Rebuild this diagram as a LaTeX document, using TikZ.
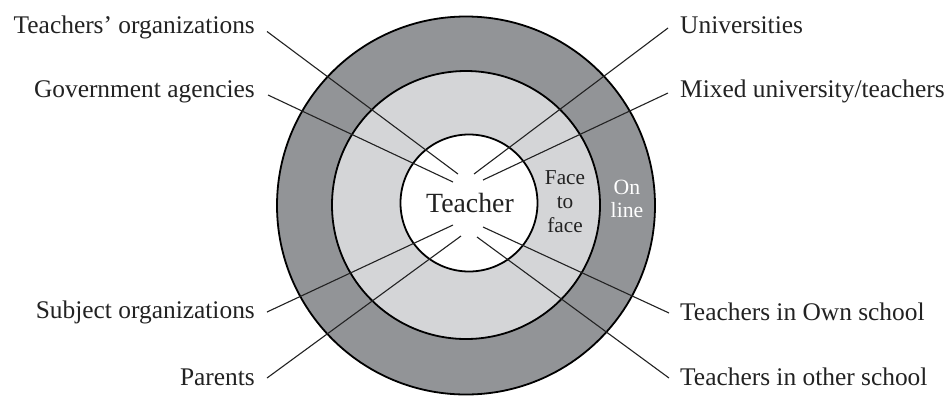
\documentclass[tikz,border=0pt]{standalone}
\usepackage{fontspec}
\setmainfont{Liberation Serif}
\definecolor{ringdark}{HTML}{929497}
\definecolor{ringlight}{HTML}{D4D5D7}
\definecolor{inkc}{HTML}{222222}
\begin{document}
\begin{tikzpicture}[x=1bp,y=-1bp,
  lab/.style={font=\fontsize{25.5}{30}\selectfont, inner sep=0pt, text=inkc},
  lead/.style={draw=inkc, line width=1.1bp},
  ring/.style={circle, draw=black, line width=1.8bp, inner sep=0pt}]
\useasboundingbox (0,0) rectangle (947,396);
\fill[white] (0,0) rectangle (947,396);
% rings
\node[ring, fill=ringdark, minimum size=378bp] (outer) at (466,205.5) {};
\node[ring, fill=ringlight, minimum size=268bp] (mid) at (466,205) {};
\node[ring, fill=white, minimum size=137bp] (inner) at (469,203) {};
% inner ends of connectors
\coordinate (e1) at (458,174);
\coordinate (e2) at (453,182);
\coordinate (e3) at (474,174);
\coordinate (e4) at (483,180);
\coordinate (e5) at (453,225);
\coordinate (e6) at (461,236);
\coordinate (e7) at (483,227);
\coordinate (e8) at (477,237);
% labels
\node[lab, anchor=base east] (to) at (255,33.5) {Teachers’ organizations};
\node[lab, anchor=base east] (ga) at (255,97) {Government agencies};
\node[lab, anchor=base east] (so) at (255,318) {Subject organizations};
\node[lab, anchor=base east] (pa) at (255,385) {Parents};
\node[lab, anchor=base west] (un) at (680,33) {Universities};
\node[lab, anchor=base west] (mx) at (680,97) {Mixed university/teachers};
\node[lab, anchor=base west] (ow) at (680,320) {Teachers in Own school};
\node[lab, anchor=base west] (ot) at (680,385) {Teachers in other school};
% connectors
\draw[lead] ([xshift=12bp,yshift=2bp]to.base east) -- (e1);
\draw[lead] ([xshift=13bp,yshift=2bp]ga.base east) -- (e2);
\draw[lead] ([xshift=12bp,yshift=6bp]so.base east) -- (e5);
\draw[lead] ([xshift=12bp,yshift=7bp]pa.base east) -- (e6);
\draw[lead] ([xshift=-12bp,yshift=5bp]un.base west) -- (e3);
\draw[lead] ([xshift=-12bp,yshift=4bp]mx.base west) -- (e4);
\draw[lead] ([xshift=-11bp,yshift=7bp]ow.base west) -- (e7);
\draw[lead] ([xshift=-11bp,yshift=7bp]ot.base west) -- (e8);
% centre texts
\node[inner sep=0pt, anchor=base, text=inkc, font=\fontsize{27.9}{30}\selectfont] (teacher) at (470,212) {Teacher};
\node[inner sep=0pt, align=center, text=inkc, font=\fontsize{21.3}{24}\selectfont] (f2f) at (565,202) {Face\\to\\face};
\node[inner sep=0pt, align=center, text=white, font=\fontsize{21.8}{23}\selectfont] (online) at (627,199) {On\\line};
\end{tikzpicture}
\end{document}
